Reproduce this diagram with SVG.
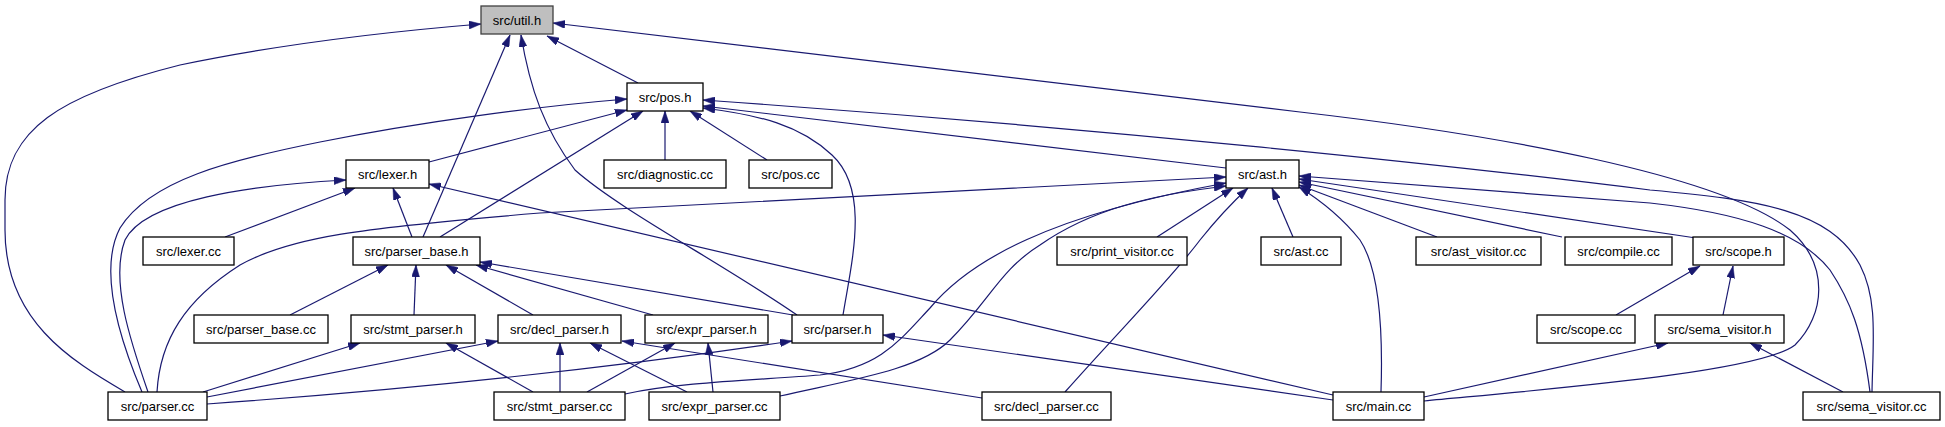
<svg xmlns="http://www.w3.org/2000/svg" width="1945" height="427" viewBox="0 0 1945 427">
<style>
.node rect{fill:#fff;stroke:#000;stroke-width:1.3}
.node.root rect{fill:#bfbfbf;stroke:#404040}
.node text{font-family:"Liberation Sans",Arial,sans-serif;font-size:13px;text-anchor:middle;fill:#000}
#edges path{fill:none;stroke:#191970;stroke-width:1.2;marker-end:url(#arr)}
</style>
<defs>
<marker id="arr" viewBox="0 0 12 8" refX="12" refY="4" markerWidth="12" markerHeight="8" markerUnits="userSpaceOnUse" orient="auto">
<path d="M0,0 L12,4 L0,8 z" fill="#191970" stroke="#191970" stroke-width="0.5"/>
</marker>
</defs>
<rect width="1945" height="427" fill="#fff"/>
<g id="edges">
<path d="M638,83 L547,36"/>
<path d="M125,392 C70,360 5,320 5,230 L5,200 C5,130 60,95 180,65 C300,40 420,29 481,24"/>
<path d="M423,237 L510,35"/>
<path d="M797,315 C720,262 620,210 575,170 C545,130 530,90 521,35"/>
<path d="M1424,401 C1560,388 1760,372 1795,345 C1825,315 1830,265 1790,230 C1720,175 1500,135 1300,112 L553,23"/>
<path d="M1872,392 C1873,340 1878,300 1860,265 C1830,210 1760,200 1650,190 C1450,165 1100,128 703,100"/>
<path d="M1226,168 L703,106"/>
<path d="M429,162 L627,110"/>
<path d="M142,392 C120,340 98,270 120,228 C150,180 230,160 320,142 C420,122 540,106 627,99"/>
<path d="M148,392 C130,340 110,280 125,240 C145,200 250,185 346,180"/>
<path d="M440,237 L643,111"/>
<path d="M665,160 L665,111"/>
<path d="M767,160 L690,111"/>
<path d="M843,315 C852,260 870,190 832,155 C800,125 760,115 703,108"/>
<path d="M225,237 L355,188"/>
<path d="M412,237 L393,188"/>
<path d="M1333,395 L429,184"/>
<path d="M157,392 C160,340 185,300 240,265 C290,237 360,228 540,213 L1226,177"/>
<path d="M625,394 C680,382 760,380 820,375 C880,368 900,340 930,308 C970,260 1050,215 1226,183"/>
<path d="M780,396 C850,380 920,370 950,340 C990,300 1000,270 1040,245 C1090,210 1150,195 1226,186"/>
<path d="M1157,237 L1233,188"/>
<path d="M1065,392 C1120,330 1170,280 1200,240 C1220,215 1235,200 1248,188"/>
<path d="M1293,237 L1272,188"/>
<path d="M1381,392 C1383,330 1380,270 1360,240 C1340,215 1320,200 1299,187"/>
<path d="M1437,237 L1299,185"/>
<path d="M1562,237 L1299,182"/>
<path d="M1696,238 L1299,179"/>
<path d="M1870,392 C1862,330 1850,300 1830,270 C1800,232 1740,213 1650,203 L1299,176"/>
<path d="M290,315 L388,265"/>
<path d="M414,315 L416,265"/>
<path d="M533,315 L446,265"/>
<path d="M653,315 L476,265"/>
<path d="M793,315 L480,262"/>
<path d="M203,392 L360,343"/>
<path d="M207,397 L498,341"/>
<path d="M207,404 C400,390 600,370 792,341"/>
<path d="M533,392 L446,343"/>
<path d="M560,392 L560,343"/>
<path d="M687,392 L590,343"/>
<path d="M587,392 L675,343"/>
<path d="M713,392 L708,343"/>
<path d="M982,398 L622,341"/>
<path d="M1333,400 L883,335"/>
<path d="M1616,315 L1700,266"/>
<path d="M1723,315 L1733,266"/>
<path d="M1424,397 L1668,343"/>
<path d="M1843,392 L1750,343"/>
</g>
<g id="n_util_h" class="node root"><rect x="481" y="6" width="72" height="28"/><text x="517" y="24.5">src/util.h</text></g>
<g id="n_pos_h" class="node"><rect x="627" y="83" width="76" height="28"/><text x="665" y="101.5">src/pos.h</text></g>
<g id="n_lexer_h" class="node"><rect x="346" y="160" width="83" height="28"/><text x="387.5" y="178.5">src/lexer.h</text></g>
<g id="n_diagnostic_cc" class="node"><rect x="604" y="160" width="122" height="28"/><text x="665" y="178.5">src/diagnostic.cc</text></g>
<g id="n_pos_cc" class="node"><rect x="749" y="160" width="83" height="28"/><text x="790.5" y="178.5">src/pos.cc</text></g>
<g id="n_ast_h" class="node"><rect x="1226" y="160" width="73" height="28"/><text x="1262.5" y="178.5">src/ast.h</text></g>
<g id="n_lexer_cc" class="node"><rect x="143" y="237" width="91" height="28"/><text x="188.5" y="255.5">src/lexer.cc</text></g>
<g id="n_parser_base_h" class="node"><rect x="353" y="237" width="127" height="28"/><text x="416.5" y="255.5">src/parser_base.h</text></g>
<g id="n_print_visitor_cc" class="node"><rect x="1057" y="237" width="130" height="28"/><text x="1122" y="255.5">src/print_visitor.cc</text></g>
<g id="n_ast_cc" class="node"><rect x="1261" y="237" width="80" height="28"/><text x="1301" y="255.5">src/ast.cc</text></g>
<g id="n_ast_visitor_cc" class="node"><rect x="1416" y="237" width="125" height="28"/><text x="1478.5" y="255.5">src/ast_visitor.cc</text></g>
<g id="n_compile_cc" class="node"><rect x="1565" y="237" width="107" height="28"/><text x="1618.5" y="255.5">src/compile.cc</text></g>
<g id="n_scope_h" class="node"><rect x="1693" y="237" width="91" height="28"/><text x="1738.5" y="255.5">src/scope.h</text></g>
<g id="n_parser_base_cc" class="node"><rect x="194" y="315" width="134" height="28"/><text x="261" y="333.5">src/parser_base.cc</text></g>
<g id="n_stmt_parser_h" class="node"><rect x="351" y="315" width="124" height="28"/><text x="413" y="333.5">src/stmt_parser.h</text></g>
<g id="n_decl_parser_h" class="node"><rect x="498" y="315" width="123" height="28"/><text x="559.5" y="333.5">src/decl_parser.h</text></g>
<g id="n_expr_parser_h" class="node"><rect x="645" y="315" width="123" height="28"/><text x="706.5" y="333.5">src/expr_parser.h</text></g>
<g id="n_parser_h" class="node"><rect x="792" y="315" width="91" height="28"/><text x="837.5" y="333.5">src/parser.h</text></g>
<g id="n_scope_cc" class="node"><rect x="1537" y="315" width="98" height="28"/><text x="1586" y="333.5">src/scope.cc</text></g>
<g id="n_sema_visitor_h" class="node"><rect x="1655" y="315" width="129" height="28"/><text x="1719.5" y="333.5">src/sema_visitor.h</text></g>
<g id="n_parser_cc" class="node"><rect x="108" y="392" width="99" height="28"/><text x="157.5" y="410.5">src/parser.cc</text></g>
<g id="n_stmt_parser_cc" class="node"><rect x="494" y="392" width="131" height="28"/><text x="559.5" y="410.5">src/stmt_parser.cc</text></g>
<g id="n_expr_parser_cc" class="node"><rect x="649" y="392" width="131" height="28"/><text x="714.5" y="410.5">src/expr_parser.cc</text></g>
<g id="n_decl_parser_cc" class="node"><rect x="982" y="392" width="129" height="28"/><text x="1046.5" y="410.5">src/decl_parser.cc</text></g>
<g id="n_main_cc" class="node"><rect x="1333" y="392" width="91" height="28"/><text x="1378.5" y="410.5">src/main.cc</text></g>
<g id="n_sema_visitor_cc" class="node"><rect x="1803" y="392" width="137" height="28"/><text x="1871.5" y="410.5">src/sema_visitor.cc</text></g>
</svg>
